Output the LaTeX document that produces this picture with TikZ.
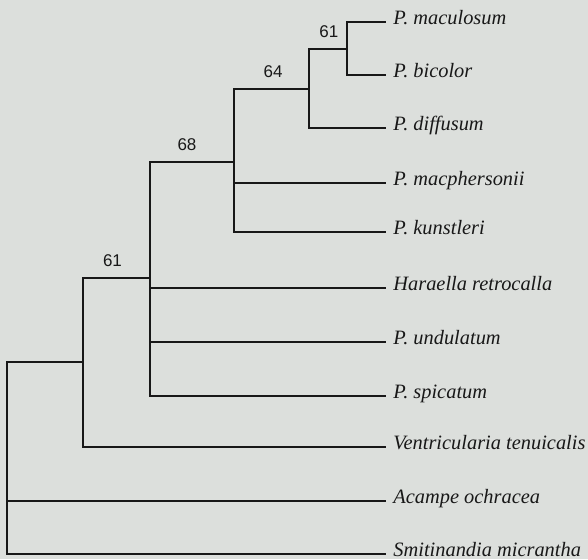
\documentclass[tikz,border=0pt]{standalone}
\usepackage{fontspec}
\setmainfont{Liberation Serif}
\newfontfamily\numfont{Liberation Sans}
\usepackage{tikz}
\usetikzlibrary{backgrounds}
\definecolor{tPaper}{RGB}{220,223,220}
\definecolor{tInk}{RGB}{24,24,24}

\begin{document}
\begin{tikzpicture}[
			x=0.5pt,y=0.5pt,
			branch/.style={
				draw=tInk,
				line width=1.15pt,
				line join=miter
			},
			taxon/.style={
				anchor=west,
				inner xsep=3.5pt,
				inner ysep=0pt,
				text height=0.7em,
				text depth=0.5em,
				text=tInk,
				font=\fontsize{10.2}{12}\selectfont\itshape
			},
			boot/.style={above=2pt,text=tInk,font=\fontsize{8.5}{10}\selectfont\numfont}
			]
			\fill[tPaper](0,0)rectangle(588,559);
			\useasboundingbox(0,0)rectangle(588,559);
			% clades
			\coordinate(root)at(7,100);
			\coordinate(ventr)at(83,197);
			\coordinate(hara)at(150,281);
			\coordinate(kunst)at(234,397);
			\coordinate(diff)at(309,470);
			\coordinate(macu)at(347,510);
			% taxa
			\node[taxon](maculosum)at(386,537){P. maculosum};
			\node[taxon](bicolor)at(386,484){P. bicolor};
			\node[taxon](diffusum)at(386,431){P. diffusum};
			\node[taxon](macphersonii)at(386,376){P. macphersonii};
			\node[taxon](kunstleri)at(386,327){P. kunstleri};
			\node[taxon](haraella)at(386,271){Haraella retrocalla};
			\node[taxon](undulatum)at(386,217){P. undulatum};
			\node[taxon](spicatum)at(386,163){P. spicatum};
			\node[taxon](ventricularia)at(386,112){Ventricularia tenuicalis};
			\node[taxon](acampe)at(386,58){Acampe ochracea};
			\node[taxon](smitinandia)at(386,5){Smitinandia micrantha};
			\draw[branch](root)|-(ventr);
			\draw[branch](root)|-(acampe);
			\draw[branch](root)|-(smitinandia);
			\draw[branch](ventr)|-node[boot,pos=0.72]{61}(hara);
			\draw[branch](ventr)|-(ventricularia);
			\draw[branch](hara)|-node[boot,pos=0.72]{68}(kunst);
			\draw[branch](hara)|-(haraella);
			\draw[branch](hara)|-(undulatum);
			\draw[branch](hara)|-(spicatum);
			\draw[branch](kunst)|-node[boot,pos=0.76]{64}(diff);
			\draw[branch](kunst)|-(macphersonii);
			\draw[branch](kunst)|-(kunstleri);
			\draw[branch](diff)|-node[boot,pos=0.76]{61}(macu);
			\draw[branch](diff)|-(diffusum);
			\draw[branch](macu)|-(maculosum);
			\draw[branch](macu)|-(bicolor);
		\end{tikzpicture}
\end{document}
